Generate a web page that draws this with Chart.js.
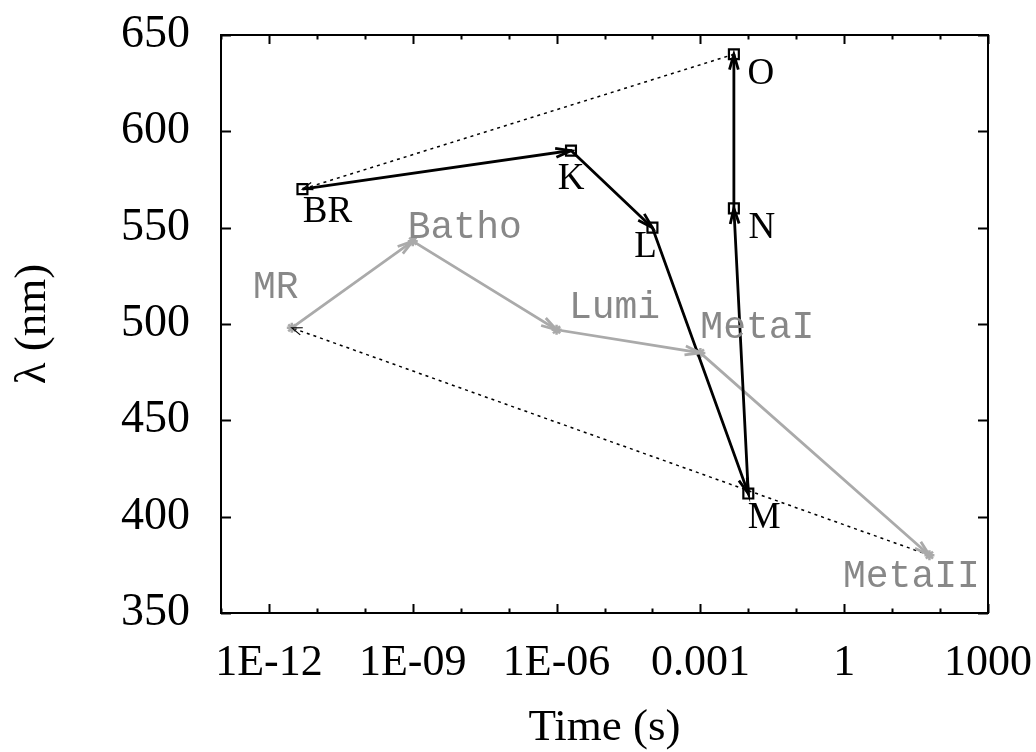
<!DOCTYPE html>
<html lang="en">
<head>
    <meta charset="UTF-8">
    <title>Photocycle: wavelength vs time</title>
    <script src="https://cdn.jsdelivr.net/npm/chart.js@4/dist/chart.umd.min.js"></script>
    <style>
        body { margin: 0; background: #fff; }
        #chart { display: block; }
    </style>
</head>
<body>
    <canvas id="chart" width="1036" height="752"></canvas>

    <script>
    // bacteriorhodopsin cycle (black)
    const brNames = ['BR', 'K', 'L', 'M', 'N', 'O'];
    const brTimes = [5e-12, 2e-6, 1e-4, 1e-2, 5e-3, 5e-3];
    const brWavelengths = [570, 590, 550, 412, 560, 640];

    // rhodopsin bleaching sequence (gray)
    const rhoNames = ['MR', 'Batho', 'Lumi', 'MetaI', 'MetaII'];
    const rhoTimes = [3e-12, 1e-9, 1e-6, 1e-3, 60];
    const rhoWavelengths = [498, 543, 497, 485, 380];

    // axis ticks
    const xTickValues = [1e-12, 1e-9, 1e-6, 1e-3, 1, 1000];
    const xTickLabels = ['1E-12', '1E-09', '1E-06', '0.001', '1', '1000'];
    const xDecades = [-13, -12, -11, -10, -9, -8, -7, -6, -5, -4, -3, -2, -1, 0, 1, 2, 3];

    // label placement relative to each point (px)
    const brLabelOffsets = [[25, 23], [0, 29], [-7, 20], [16, 25], [28, 20], [27, 20]];
    const rhoLabelOffsets = [[-16, -40], [52, -13], [58, -22], [57, -25], [-18, 22]];

    const GRAY_LINE = '#aaaaaa';
    const GRAY_TEXT = '#888888';

    const toPoints = (xs, ys) => xs.map((x, i) => ({ x: x, y: ys[i] }));
    const last = brTimes.length - 1;
    const lastRho = rhoTimes.length - 1;

    // keep the plot box where the layout padding puts it
    function noLabelPadding(scale) {
        scale.paddingTop = 0;
        scale.paddingBottom = 0;
        scale.paddingLeft = 0;
        scale.paddingRight = 0;
    }

    function drawHead(ctx, x0, y0, x1, y1, len, spread) {
        const a = Math.atan2(y1 - y0, x1 - x0);
        ctx.beginPath();
        ctx.moveTo(x1 - len * Math.cos(a - spread), y1 - len * Math.sin(a - spread));
        ctx.lineTo(x1, y1);
        ctx.lineTo(x1 - len * Math.cos(a + spread), y1 - len * Math.sin(a + spread));
        ctx.stroke();
    }

    const arrowPlugin = {
        id: 'arrows',
        afterDatasetsDraw(chart) {
            const ctx = chart.ctx;
            ctx.save();
            chart.data.datasets.forEach((ds, di) => {
                if (!ds.arrowHead) return;
                const pts = chart.getDatasetMeta(di).data;
                ctx.strokeStyle = ds.borderColor;
                ctx.lineWidth = ds.arrowHead.width;
                ctx.setLineDash([]);
                for (let i = 1; i < pts.length; i++) {
                    drawHead(ctx, pts[i - 1].x, pts[i - 1].y, pts[i].x, pts[i].y,
                             ds.arrowHead.len, ds.arrowHead.spread);
                }
            });
            ctx.restore();
        }
    };

    const framePlugin = {
        id: 'frame',
        afterDraw(chart) {
            const { ctx, chartArea: a } = chart;
            const xs = chart.scales.x, ys = chart.scales.y;
            ctx.save();
            ctx.strokeStyle = '#000';
            ctx.lineWidth = 2;
            ctx.beginPath();
            xs.ticks.forEach(t => {
                const px = Math.round(xs.getPixelForValue(t.value)) + 0.5;
                const len = t.label ? 9 : 4.5;
                ctx.moveTo(px, a.bottom); ctx.lineTo(px, a.bottom - len);
                ctx.moveTo(px, a.top); ctx.lineTo(px, a.top + len);
            });
            ys.ticks.forEach(t => {
                const py = Math.round(ys.getPixelForValue(t.value)) + 0.5;
                ctx.moveTo(a.left, py); ctx.lineTo(a.left + 10, py);
                ctx.moveTo(a.right, py); ctx.lineTo(a.right - 10, py);
            });
            ctx.stroke();
            ctx.strokeRect(a.left, a.top, a.right - a.left, a.bottom - a.top);
            ctx.restore();
        }
    };

    const labelPlugin = {
        id: 'pointLabels',
        afterDatasetsDraw(chart) {
            const ctx = chart.ctx;
            ctx.save();
            ctx.textAlign = 'center';
            ctx.textBaseline = 'middle';
            const brPts = chart.getDatasetMeta(0).data;
            ctx.fillStyle = '#000';
            ctx.font = '37px "Liberation Serif", "Times New Roman", serif';
            brNames.forEach((n, i) => {
                ctx.fillText(n, brPts[i].x + brLabelOffsets[i][0], brPts[i].y + brLabelOffsets[i][1]);
            });
            const rhoPts = chart.getDatasetMeta(1).data;
            ctx.fillStyle = GRAY_TEXT;
            ctx.font = '38px "Liberation Mono", "Courier New", monospace';
            rhoNames.forEach((n, i) => {
                ctx.fillText(n, rhoPts[i].x + rhoLabelOffsets[i][0], rhoPts[i].y + rhoLabelOffsets[i][1]);
            });
            ctx.restore();
        }
    };

    new Chart(document.getElementById('chart'), {
        type: 'scatter',
        data: {
            datasets: [{
                label: 'bR',
                data: toPoints(brTimes, brWavelengths),
                showLine: true,
                borderColor: '#000',
                borderWidth: 2.8,
                pointStyle: 'rect',
                pointRadius: 7,
                pointBorderWidth: 2.2,
                pointBackgroundColor: 'rgba(0,0,0,0)',
                pointBorderColor: '#000',
                arrowHead: { len: 16, spread: 0.28, width: 2.8 }
            }, {
                label: 'rhodopsin',
                data: toPoints(rhoTimes, rhoWavelengths),
                showLine: true,
                borderColor: GRAY_LINE,
                borderWidth: 2.8,
                pointStyle: 'star',
                pointRadius: 5,
                pointBorderWidth: 2.5,
                pointBorderColor: GRAY_LINE,
                arrowHead: { len: 16, spread: 0.28, width: 2.8 }
            }, {
                label: 'O to BR',
                data: [{ x: brTimes[last], y: brWavelengths[last] }, { x: brTimes[0], y: brWavelengths[0] }],
                showLine: true,
                borderColor: '#000',
                borderWidth: 1.5,
                borderDash: [3, 4],
                pointRadius: 0,
                arrowHead: { len: 11, spread: 0.35, width: 1.2 }
            }, {
                label: 'MetaII to MR',
                data: [{ x: rhoTimes[lastRho], y: rhoWavelengths[lastRho] }, { x: rhoTimes[0], y: rhoWavelengths[0] }],
                showLine: true,
                borderColor: '#000',
                borderWidth: 1.5,
                borderDash: [3, 4],
                pointRadius: 0,
                arrowHead: { len: 11, spread: 0.35, width: 1.2 }
            }]
        },
        options: {
            responsive: false,
            animation: false,
            layout: { padding: { top: 35, right: 48, left: 0, bottom: 0 } },
            plugins: {
                legend: { display: false },
                tooltip: { enabled: false }
            },
            scales: {
                x: {
                    type: 'logarithmic',
                    min: 1e-13,
                    max: 1000,
                    grid: { display: false },
                    border: { display: false },
                    afterBuildTicks: (scale) => {
                        scale.ticks = xDecades.map(e => ({ value: parseFloat('1e' + e) }));
                    },
                    afterFit: (scale) => { scale.height = 139; noLabelPadding(scale); },
                    ticks: {
                        autoSkip: false,
                        maxRotation: 0,
                        padding: 16,
                        color: '#000',
                        font: { family: '"Liberation Serif", "Times New Roman", serif', size: 44 },
                        callback: (v) => {
                            const i = xTickValues.findIndex(t => Math.abs(Math.log10(t) - Math.log10(v)) < 1e-6);
                            return i >= 0 ? xTickLabels[i] : '';
                        }
                    },
                    title: {
                        display: true,
                        text: 'Time (s)',
                        color: '#000',
                        padding: { top: 0, bottom: 0 },
                        font: { family: '"Liberation Serif", "Times New Roman", serif', size: 45, lineHeight: 1.05 }
                    }
                },
                y: {
                    min: 350,
                    max: 650,
                    grid: { display: false },
                    border: { display: false },
                    afterFit: (scale) => { scale.width = 221; noLabelPadding(scale); },
                    ticks: {
                        stepSize: 50,
                        padding: 23,
                        color: '#000',
                        font: { family: '"Liberation Serif", "Times New Roman", serif', size: 46 }
                    },
                    title: {
                        display: true,
                        text: 'λ (nm)',
                        color: '#000',
                        padding: { top: 6, bottom: 0 },
                        font: { family: '"Liberation Serif", "Times New Roman", serif', size: 45 }
                    }
                }
            }
        },
        plugins: [arrowPlugin, labelPlugin, framePlugin]
    });
    </script>
</body>
</html>
